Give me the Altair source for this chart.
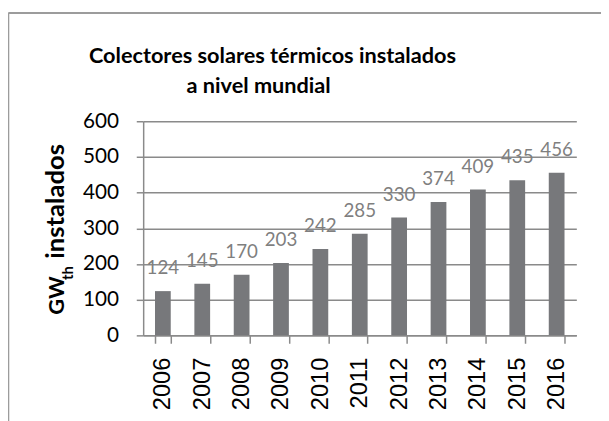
import altair as alt
import pandas as pd

# ---- data ----
years = ["2006", "2007", "2008", "2009", "2010", "2011", "2012", "2013", "2014", "2015", "2016"]
values = [124, 145, 170, 203, 242, 285, 330, 374, 409, 435, 456]
y_ticks = [0, 100, 200, 300, 400, 500, 600]
title_lines = ["Colectores solares térmicos instalados", "a nivel mundial"]
ytitle_main = "GW"
ytitle_sub = "th"
ytitle_rest = "instalados"

df = pd.DataFrame({"year": years, "value": values})

W, H = 439, 217
GRAY = "#8a8a8a"
BAR = "#77787b"

X_ENC = alt.X(
    "year:N", sort=None, title=None,
    scale=alt.Scale(paddingInner=0.6, paddingOuter=0.3),
    axis=alt.Axis(
        labelAngle=270, labelFont="Liberation Sans", labelFontSize=24,
        labelColor="#000000", tickBand="extent", tickSize=8, tickColor=GRAY,
        tickWidth=1.5, domainColor=GRAY, domainWidth=1.5, labelPadding=14,
        grid=False, labelOverlap=False,
    ),
)
Y_ENC = alt.Y(
    "value:Q", title=None,
    scale=alt.Scale(domain=[0, 600], nice=False),
    axis=alt.Axis(
        values=y_ticks, tickCount=7, tickSize=7, tickColor=GRAY, tickWidth=1.5,
        domainColor=GRAY, domainWidth=1.5, grid=True, gridColor=GRAY,
        gridWidth=1.5, labelFont="Lato", labelFontSize=21,
        labelColor="#000000", labelPadding=18, labelOverlap=False,
    ),
)

base = alt.Chart(df)

bars = base.mark_bar(color=BAR).encode(x=X_ENC, y=Y_ENC)

labels = base.mark_text(
    baseline="alphabetic", dy=-17, font="Lato", fontSize=19, color="#7f7f7f"
).encode(x=X_ENC, y=Y_ENC, text="value:Q")

t1 = alt.Chart(pd.DataFrame({"t": [title_lines[0]]})).mark_text(
    font="Lato", fontWeight="bold", fontSize=22, color="#000000",
    align="center", baseline="alphabetic",
).encode(x=alt.value(131), y=alt.value(-59), text="t:N")

t2 = alt.Chart(pd.DataFrame({"t": [title_lines[1]]})).mark_text(
    font="Lato", fontWeight="bold", fontSize=22, color="#000000",
    align="center", baseline="alphabetic",
).encode(x=alt.value(117), y=alt.value(-29), text="t:N")

yt1 = alt.Chart(pd.DataFrame({"t": [ytitle_main]})).mark_text(
    font="Lato", fontWeight="bold", fontSize=22, color="#000000",
    align="left", baseline="alphabetic", angle=270,
).encode(x=alt.value(-80.5), y=alt.value(196), text="t:N")

yt2 = alt.Chart(pd.DataFrame({"t": [ytitle_sub]})).mark_text(
    font="Lato", fontWeight="bold", fontSize=15, color="#000000",
    align="left", baseline="alphabetic", angle=270,
).encode(x=alt.value(-71), y=alt.value(161), text="t:N")

yt3 = alt.Chart(pd.DataFrame({"t": [ytitle_rest]})).mark_text(
    font="Lato", fontWeight="bold", fontSize=26, color="#000000",
    align="right", baseline="alphabetic", angle=270,
).encode(x=alt.value(-80.5), y=alt.value(23), text="t:N")

frame_left = alt.Chart(pd.DataFrame({"a": [0]})).mark_rule(
    color="#9c9c9c", strokeWidth=2
).encode(x=alt.value(-136.7), y=alt.value(-109.7), y2=alt.value(310))

frame_top = alt.Chart(pd.DataFrame({"a": [0]})).mark_rule(
    color="#9c9c9c", strokeWidth=2
).encode(x=alt.value(-136.7), x2=alt.value(480), y=alt.value(-109.7))

chart = alt.layer(
    bars, labels, t1, t2, yt1, yt2, yt3, frame_left, frame_top
).properties(
    width=W, height=H,
    autosize=alt.AutoSizeParams(type="none"),
    padding={"left": 137, "top": 112, "right": 25, "bottom": 84},
).configure_view(stroke=None)

chart.save("out.html", embed_options={"renderer": "svg", "actions": False})
